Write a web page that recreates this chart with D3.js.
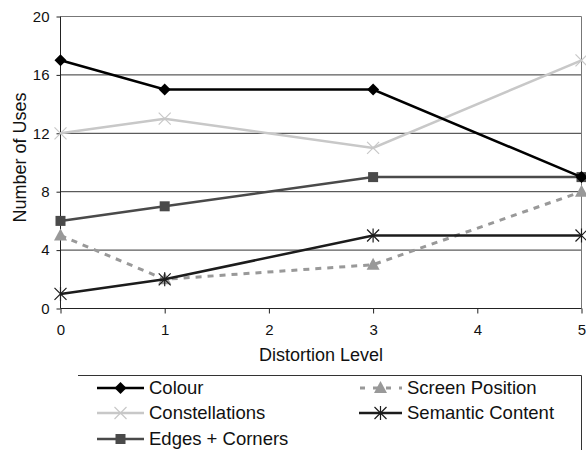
<!DOCTYPE html>
<html><head><meta charset="utf-8">
<script src="https://cdn.jsdelivr.net/npm/d3@7/dist/d3.min.js"></script>
<style>body{margin:0;background:#fff;} svg{display:block;font-family:"Liberation Sans",Arial,sans-serif;}</style>
</head><body><svg id="c" width="586" height="450"></svg>
<script>
const levels = [0, 1, 3, 5];
const xTicks = [0, 1, 2, 3, 4, 5];
const yTicks = [0, 4, 8, 12, 16, 20];
const colour = [17, 15, 15, 9];
const screenPosition = [5, 2, 3, 8];
const constellations = [12, 13, 11, 17];
const semanticContent = [1, 2, 5, 5];
const edgesCorners = [6, 7, 9, 9];
const seriesNames = ["Colour", "Screen Position", "Constellations", "Semantic Content", "Edges + Corners"];

const series = [
  {name: seriesNames[2], values: constellations, color: "#c8c8c8", width: 2.5, marker: "x", dash: null},
  {name: seriesNames[4], values: edgesCorners, color: "#4a4a4a", width: 2.5, marker: "square", dash: null},
  {name: seriesNames[1], values: screenPosition, color: "#999999", width: 3, marker: "triangle", dash: "6,6"},
  {name: seriesNames[3], values: semanticContent, color: "#1c1c1c", width: 2.5, marker: "star", dash: null},
  {name: seriesNames[0], values: colour, color: "#000000", width: 2.5, marker: "diamond", dash: null}
];

const svg = d3.select("#c");
const x = d3.scaleLinear().domain([0, 5]).range([60.5, 581.5]);
const y = d3.scaleLinear().domain([0, 20]).range([308.5, 16.5]);

svg.append("g").selectAll("line").data(yTicks.filter(v => v > 0 && v < 20)).join("line")
  .attr("x1", x(0)).attr("x2", x(5)).attr("y1", d => y(d)).attr("y2", d => y(d))
  .attr("stroke", "#333").attr("stroke-width", 1);
svg.append("line").attr("x1", x(0)).attr("x2", x(5)).attr("y1", y(20)).attr("y2", y(20)).attr("stroke", "#777");
svg.append("line").attr("x1", x(5)).attr("x2", x(5)).attr("y1", y(20)).attr("y2", y(0)).attr("stroke", "#777");

const yAxis = d3.axisLeft(y).tickValues(yTicks).tickSize(4).tickPadding(7).tickFormat(d3.format("d"));
const gy = svg.append("g").attr("transform", `translate(${x(0)},0)`).call(yAxis);
const xAxis = d3.axisBottom(x).tickValues(xTicks).tickSize(5).tickPadding(11).tickFormat(d3.format("d"));
const gx = svg.append("g").attr("transform", `translate(0,${y(0)})`).call(xAxis);
[gx, gy].forEach(g => {
  g.attr("font-family", null).attr("font-size", null);
  g.select(".domain").attr("stroke", "#222").attr("stroke-width", 1);
  g.selectAll(".tick line").attr("stroke", "#222");
  g.selectAll("text").attr("font-size", 15).attr("fill", "#111");
});
gx.select(".domain").attr("d", `M${x(0)},0H${x(5)}`);
gy.select(".domain").attr("d", `M0,${y(0)}V${y(20)}`);

svg.append("text").attr("x", (x(0) + x(5)) / 2).attr("y", 361).attr("text-anchor", "middle")
  .attr("font-size", 18).attr("fill", "#111").text("Distortion Level");
svg.append("text").attr("transform", `translate(26,157.5) rotate(-90)`).attr("text-anchor", "middle")
  .attr("font-size", 18).attr("fill", "#111").text("Number of Uses");

function drawMarker(g, type, cx, cy, color) {
  if (type === "diamond") {
    g.append("path").attr("d", `M${cx},${cy - 6}L${cx + 6},${cy}L${cx},${cy + 6}L${cx - 6},${cy}Z`).attr("fill", color);
  } else if (type === "square") {
    g.append("rect").attr("x", cx - 5).attr("y", cy - 5).attr("width", 10).attr("height", 10).attr("fill", color);
  } else if (type === "triangle") {
    g.append("path").attr("d", `M${cx},${cy - 7}L${cx + 6.5},${cy + 5}L${cx - 6.5},${cy + 5}Z`).attr("fill", color);
  } else if (type === "x") {
    g.append("path").attr("d", `M${cx - 6},${cy - 6}L${cx + 6},${cy + 6}M${cx - 6},${cy + 6}L${cx + 6},${cy - 6}`)
      .attr("stroke", color).attr("stroke-width", 1.2).attr("fill", "none");
  } else if (type === "star") {
    g.append("path").attr("d", `M${cx - 6},${cy - 6}L${cx + 6},${cy + 6}M${cx - 6},${cy + 6}L${cx + 6},${cy - 6}M${cx},${cy - 7}V${cy + 7}`)
      .attr("stroke", color).attr("stroke-width", 1.2).attr("fill", "none");
  }
}

const line = d3.line().x((d, i) => x(levels[i])).y(d => y(d));
series.forEach(s => {
  const g = svg.append("g");
  g.append("path").datum(s.values).attr("d", line).attr("fill", "none")
    .attr("stroke", s.color).attr("stroke-width", s.width).attr("stroke-dasharray", s.dash);
  s.values.forEach((v, i) => drawMarker(g, s.marker, x(levels[i]), y(v), s.color));
});

const lg = svg.append("g");
lg.append("line").attr("x1", 78).attr("x2", 581.5).attr("y1", 375.5).attr("y2", 375.5).attr("stroke", "#333");
lg.append("line").attr("x1", 581.5).attr("x2", 581.5).attr("y1", 375.5).attr("y2", 450).attr("stroke", "#333");
const legendOrder = [
  {s: series[4], col: 0, row: 0},
  {s: series[2], col: 1, row: 0},
  {s: series[0], col: 0, row: 1},
  {s: series[3], col: 1, row: 1},
  {s: series[1], col: 0, row: 2}
];
const colX = [97, 359];
const rowY = [388, 413, 439];
legendOrder.forEach(o => {
  const lx = colX[o.col], ly = rowY[o.row], s = o.s;
  const w = o.col === 0 ? 47 : 43;
  lg.append("line").attr("x1", lx).attr("x2", lx + w).attr("y1", ly).attr("y2", ly)
    .attr("stroke", s.color).attr("stroke-width", s.width).attr("stroke-dasharray", s.dash ? "5,8" : null)
    .attr("stroke-dashoffset", s.dash ? -1 : null);
  drawMarker(lg, s.marker, lx + w / 2, ly, s.color);
  lg.append("text").attr("x", lx + w + 5).attr("y", ly + 6).attr("font-size", 18.5).attr("fill", "#111").text(s.name);
});
</script></body></html>
